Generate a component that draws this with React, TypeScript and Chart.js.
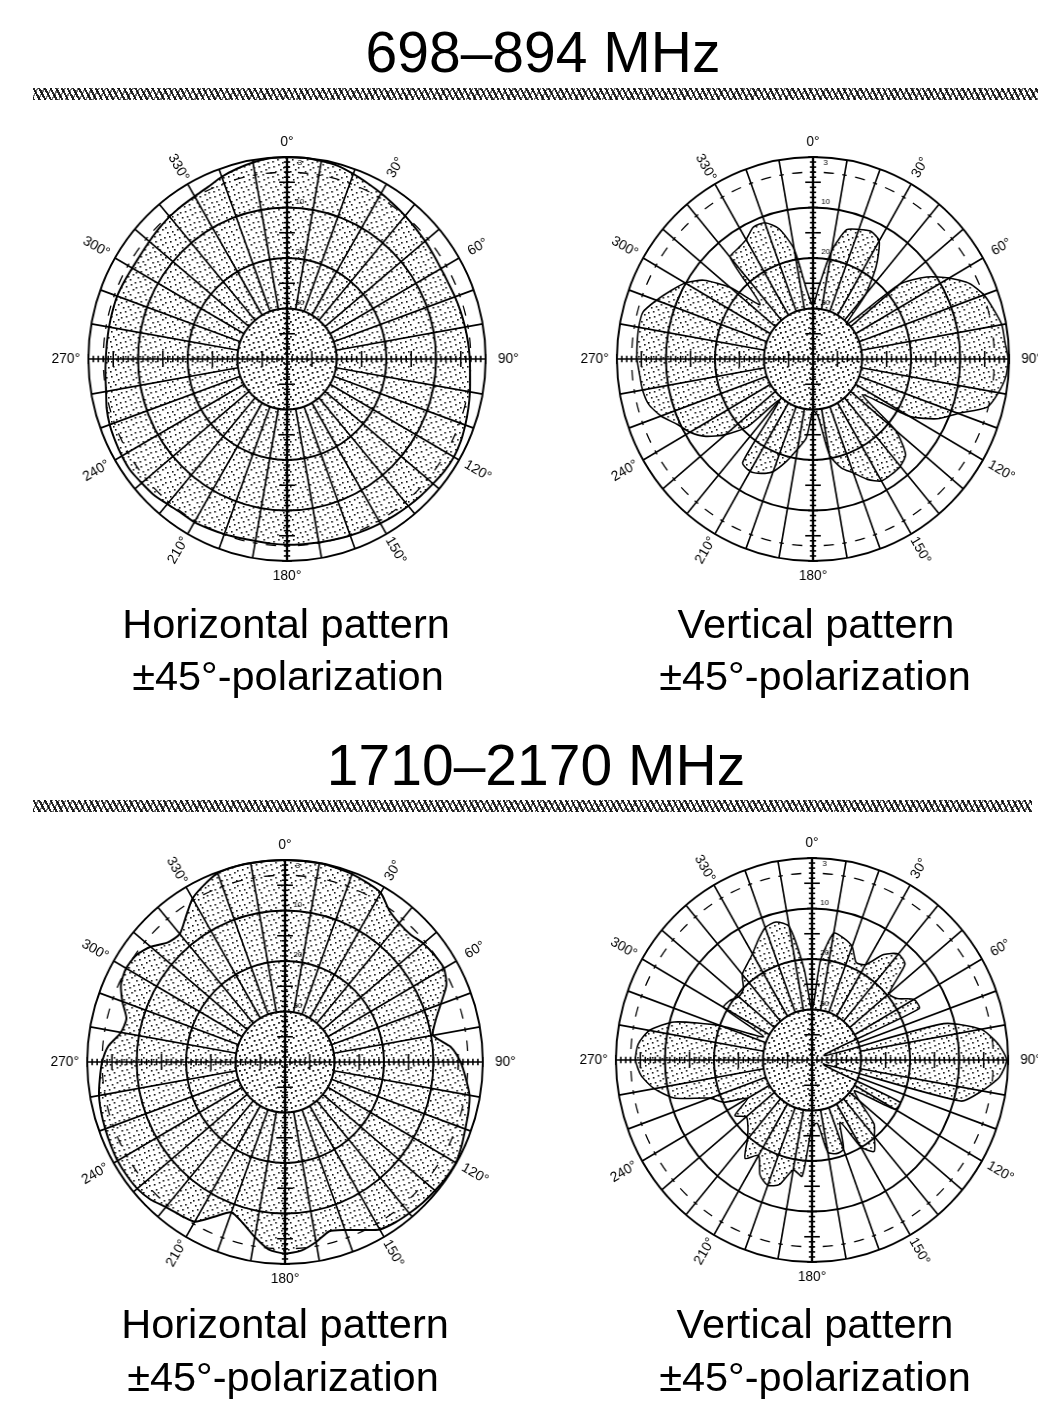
import React, { useEffect, useRef } from "react";
import { Chart, registerables } from "chart.js";

Chart.register(...registerables);

// Angles of the pattern, one category every 5 degrees, clockwise from 0 at the top.
const ANGLE_LABELS: string[] = Array.from({ length: 72 }, (_, i) => `${i * 5}°`);
const DIRECTION_LABELS = [0, 30, 60, 90, 120, 150, 180, 210, 240, 270, 300, 330];
const RING_LABELS = [3, 10, 20, 30];

const LOW_HORIZONTAL = [
  0, 0, -0.2, -0.4, -1, -1.6, -2.1, -2.6, -3, -3.4, -3.7, -4,
  -4.2, -4.2, -4, -3.8, -3.6, -3.4, -3.2, -3, -2.6, -2.2, -1.8, -1.4,
  -1.2, -1.3, -1.6, -1.8, -2, -2.2, -2.4, -2.6, -2.8, -3, -3.1, -3.2,
  -3.2, -3.3, -3.4, -3.3, -3.1, -2.9, -2.7, -2.8, -2.5, -2, -1.8, -1.5,
  -1.6, -1.8, -2, -2.4, -3, -3.3, -3.5, -3.6, -3.6, -3.6, -3.6, -3.8,
  -4, -4, -3.8, -3.5, -3.2, -3, -2.8, -2.4, -1.6, -1, -0.5, -0.1,
];
const LOW_VERTICAL = [
  -29.3, -25.3, -18.3, -13.5, -12.7, -12.1, -13, -17.5, -23.3, -30.3, -17, -11.7,
  -7.9, -4.7, -2.9, -1.9, -0.9, -0.7, -0.2, -0.5, -1.6, -3.2, -8.5, -12,
  -17.3, -27.7, -18, -13.3, -12.3, -12.1, -12.1, -13.7, -16, -17.7, -20.7, -28.7,
  -29.7, -24.3, -21.9, -19, -16.3, -15, -14.3, -15, -29.3, -21, -16.7, -13.3,
  -11, -9.4, -7, -5.3, -4.7, -4.5, -4.1, -4, -3.9, -4.1, -6, -8,
  -9.9, -12.8, -18, -24.7, -13.7, -13.3, -12.7, -11.2, -11.3, -13.3, -18, -26.7,
];
const HIGH_HORIZONTAL = [
  0, 0, 0, -0.2, -0.4, -0.8, -1.3, -3.3, -4.1, -4.2, -3.5, -3.1,
  -2.9, -4, -6.5, -8.5, -9.6, -6.3, -4.5, -3.3, -2.1, -1.6, -1.2, -0.6,
  -0.1, -0.2, -0.4, -0.6, -0.9, -1.2, -1.7, -3.3, -4.6, -5.3, -3.8, -2.5,
  -2.1, -2.7, -4.8, -7, -8.3, -6.2, -3.5, -3, -2.5, -1.5, -1, -0.9,
  -0.9, -1.1, -1.3, -1.5, -1.8, -2.4, -3, -4.1, -6.3, -6.8, -5, -3.4,
  -2.9, -3.2, -4.5, -6.5, -6.9, -5, -2.6, -1.3, -0.2, 0, 0, 0,
];
const HIGH_VERTICAL = [
  -30, -20.2, -14.5, -15, -16.1, -18.7, -18.2, -14.5, -12.6, -13.2, -19.5, -18.8,
  -16, -15.9, -37.4, -12.2, -5, -2, -0.3, -1.6, -4.8, -8.6, -37.4, -20.2,
  -20.5, -29.4, -27.4, -22.1, -20.2, -17.9, -20.2, -26.4, -21.2, -20.8, -21.5, -27.4,
  -26.8, -16.9, -17.9, -14.5, -13.6, -14.9, -18.2, -16.2, -19.5, -21.5, -22.5, -20.8,
  -24.8, -20.2, -17.9, -10.9, -7.3, -5, -4, -4.4, -6.3, -10.9, -20.2, -29.1,
  -19.2, -19.5, -20.5, -20.2, -17.9, -16.9, -15.7, -13.9, -12.1, -11.7, -13.2, -22.1,
];

const FONT = '"Liberation Sans", Arial, sans-serif';
const STIPPLE_DOTS = [
  [1, 2], [6, 0], [11, 3], [3, 7], [8, 5], [13, 8], [0, 12], [5, 10], [10, 13],
];

function stipple(): CanvasPattern | string {
  const tile = document.createElement("canvas");
  tile.width = 15;
  tile.height = 15;
  const c = tile.getContext("2d");
  if (!c) return "#bbb";
  c.fillStyle = "#111";
  for (const [x, y] of STIPPLE_DOTS) c.fillRect(x, y, 1.6, 1.6);
  return c.createPattern(tile, "repeat") ?? "#bbb";
}

const overlay = {
  id: "patternOverlay",
  beforeDatasetsDraw(chart: any) {
    const s = chart.scales.r;
    const { ctx } = chart;
    ctx.save();
    ctx.fillStyle = stipple();
    ctx.beginPath();
    ctx.arc(s.xCenter, s.yCenter, s.getDistanceFromCenterForValue(-30), 0, Math.PI * 2);
    ctx.fill();
    ctx.restore();
  },
  afterDatasetsDraw(chart: any) {
    const s = chart.scales.r;
    const { ctx } = chart;
    const n = ANGLE_LABELS.length;
    ctx.save();
    ctx.strokeStyle = "#000";
    ctx.fillStyle = "#000";

    // spokes every 10 degrees, from the inner ring to the rim
    ctx.lineWidth = 1.7;
    for (let i = 0; i < n; i += 2) {
      if (i % 18 === 0) continue;
      const a = s.getPointPositionForValue(i, -30);
      const b = s.getPointPositionForValue(i, 0);
      ctx.beginPath();
      ctx.moveTo(a.x, a.y);
      ctx.lineTo(b.x, b.y);
      ctx.stroke();
    }

    // the broken -3 dB ring: a dash in each 10 degree cell and a nick on each spoke
    const r3 = s.getDistanceFromCenterForValue(-3);
    ctx.lineWidth = 1.3;
    for (let d = 0; d < 360; d += 5) {
      const half = d % 10 === 0 ? 0.7 : 1.6;
      const mid = ((d - 90) * Math.PI) / 180;
      const h = (half * Math.PI) / 180;
      ctx.beginPath();
      ctx.arc(s.xCenter, s.yCenter, r3, mid - h, mid + h);
      ctx.stroke();
    }

    // the two graduated axes
    for (const idx of [0, 18, 36, 54]) {
      const a = s.getPointPositionForValue(idx, -40);
      const b = s.getPointPositionForValue(idx, 0);
      const len = Math.hypot(b.x - a.x, b.y - a.y) || 1;
      const ux = (b.x - a.x) / len;
      const uy = (b.y - a.y) / len;
      ctx.lineWidth = idx % 36 === 0 ? 2.4 : 1.6;
      ctx.beginPath();
      ctx.moveTo(a.x, a.y);
      ctx.lineTo(b.x, b.y);
      ctx.stroke();
      ctx.lineWidth = 1.6;
      for (let db = -39; db <= 0; db++) {
        const p = s.getPointPositionForValue(idx, db);
        const w = Math.abs(db) % 10 === 5 ? 8 : Math.abs(db) % 10 === 0 ? 5 : 3.2;
        ctx.beginPath();
        ctx.moveTo(p.x - uy * w, p.y + ux * w);
        ctx.lineTo(p.x + uy * w, p.y - ux * w);
        ctx.stroke();
      }
    }

    // direction labels, turned to follow the rim
    const step = (2 * Math.PI) / n;
    ctx.font = `14px ${FONT}`;
    ctx.textAlign = "center";
    ctx.textBaseline = "middle";
    for (const deg of DIRECTION_LABELS) {
      const i = deg / 5;
      const ang = i * step - Math.PI / 2;
      const rad = s.drawingArea + 15 + 8 * Math.abs(Math.cos(ang));
      const rot = deg % 180 === 0 ? 0 : (((deg % 180) - 90) * Math.PI) / 180;
      ctx.save();
      ctx.translate(s.xCenter + rad * Math.cos(ang), s.yCenter + rad * Math.sin(ang));
      ctx.rotate(rot);
      ctx.fillText(ANGLE_LABELS[i], 0, 0);
      ctx.restore();
    }

    // small dB values beside the top axis
    ctx.font = `8px ${FONT}`;
    for (const v of RING_LABELS) {
      const p = s.getPointPositionForValue(0, -v);
      ctx.fillText(String(v), p.x + 13, p.y + (v === 3 ? -9 : -6));
    }
    ctx.restore();
  },
};

function Polar({ values, cx, cy, line, shownWidth }: { values: number[]; cx: number; cy: number; line: number; shownWidth: number }) {
  const ref = useRef<HTMLCanvasElement | null>(null);
  useEffect(() => {
    if (!ref.current) return;
    const chart = new Chart(ref.current, {
      type: "radar",
      data: {
        labels: ANGLE_LABELS,
        datasets: [
          {
            data: values,
            borderColor: "#000",
            borderWidth: line,
            backgroundColor: stipple() as any,
            fill: "start",
            pointRadius: 0,
            tension: 0.22,
          },
        ],
      },
      options: {
        responsive: false,
        animation: false,
        layout: { padding: 38 },
        plugins: { legend: { display: false }, tooltip: { enabled: false } },
        scales: {
          r: {
            min: -40,
            max: 0,
            ticks: { stepSize: 10, display: false },
            angleLines: { display: false },
            pointLabels: { display: false },
            grid: { circular: true, color: "#000", lineWidth: 2 },
          },
        },
      },
      plugins: [overlay],
    } as any);
    // the drawn plates are slightly narrower than they are tall
    ref.current.style.width = `${shownWidth}px`;
    ref.current.style.height = "480px";
    return () => chart.destroy();
  }, [values, line, shownWidth]);
  return (
    <canvas
      ref={ref}
      width={480}
      height={480}
      style={{ position: "absolute", left: cx - shownWidth / 2, top: cy - 240, width: shownWidth, height: 480, display: "block" }}
    />
  );
}

function Label({ text, x, y, size }: { text: string; x: number; y: number; size: number }) {
  return (
    <div
      style={{
        position: "absolute",
        left: x - 300,
        width: 600,
        top: y - size,
        height: size * 1.3,
        lineHeight: `${size * 1.3}px`,
        textAlign: "center",
        fontFamily: FONT,
        fontSize: size,
        color: "#000",
        whiteSpace: "nowrap",
      }}
    >
      {text}
    </div>
  );
}

function Band({ top, width }: { top: number; width: number }) {
  return (
    <div
      style={{
        position: "absolute",
        left: 33,
        top,
        width,
        height: 12,
        background:
          "repeating-linear-gradient(62deg, rgba(0,0,0,0.85) 0 2px, transparent 2px 5px), repeating-linear-gradient(-62deg, rgba(0,0,0,0.55) 0 1.5px, transparent 1.5px 6px)",
      }}
    />
  );
}

export default function App() {
  return (
    <div style={{ position: "absolute", left: 0, top: 0, width: 1038, height: 1407, overflow: "hidden", background: "#fff" }}>
      <Label text="698–894 MHz" x={543} y={72} size={57} />
      <Band top={88} width={1005} />
      <Polar values={LOW_HORIZONTAL} cx={287} cy={359} line={2} shownWidth={472} />
      <Polar values={LOW_VERTICAL} cx={813} cy={359} line={1.6} shownWidth={466} />
      <Label text="Horizontal pattern" x={286} y={638} size={41.5} />
      <Label text="±45°-polarization" x={288} y={690} size={41.5} />
      <Label text="Vertical pattern" x={816} y={638} size={41.5} />
      <Label text="±45°-polarization" x={815} y={690} size={41.5} />
      <Label text="1710–2170 MHz" x={536} y={785} size={57} />
      <Band top={800} width={999} />
      <Polar values={HIGH_HORIZONTAL} cx={285} cy={1062} line={2} shownWidth={470} />
      <Polar values={HIGH_VERTICAL} cx={812} cy={1060} line={1.6} shownWidth={466} />
      <Label text="Horizontal pattern" x={285} y={1338} size={41.5} />
      <Label text="±45°-polarization" x={283} y={1391} size={41.5} />
      <Label text="Vertical pattern" x={815} y={1338} size={41.5} />
      <Label text="±45°-polarization" x={815} y={1391} size={41.5} />
    </div>
  );
}
